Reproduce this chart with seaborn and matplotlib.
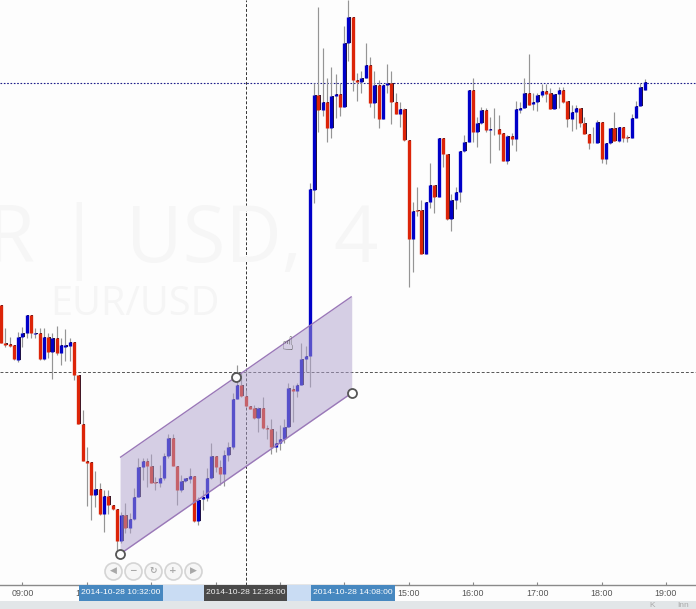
import pandas as pd
import seaborn as sns
import matplotlib.pyplot as plt
from matplotlib.patches import Rectangle

# Chart has no price axis, so levels are read as rows from the top of the chart
opens = [305, 343.3, 344.3, 345, 360, 336.7, 332.7, 315, 333.7, 333.3, 359, 336.7, 351.7, 338.3, 352.7, 346.7, 346,
         342.3, 375, 424.3, 461, 462.3, 495.3, 489.3, 514.3, 496, 505, 509, 540.7, 515, 528, 519.3, 496.7, 466.7,
         461, 465.7, 482, 483.3, 478.3, 456, 438.3, 465.7, 490, 481, 478.7, 476, 521, 499.3, 498.3, 478.3, 456,
         466.7, 474, 454.7, 446.7, 399.3, 384.7, 395.7, 406, 408.3, 418.3, 408.3, 428, 428.7, 446.7, 443, 439,
         427.3, 388.7, 391.3, 385.3, 359.3, 355.7, 190, 95, 110, 102.3, 128.3, 96, 94.3, 106.7, 43.3, 16.7, 80,
         82.3, 78.3, 64.7, 102.7, 85.3, 119, 85.3, 83, 101.7, 114, 109, 140.3, 238.7, 210.3, 210.3, 253.7, 201.7,
         185.3, 196.7, 137.7, 153.7, 218.7, 200.3, 192, 150.7, 141.7, 90.3, 132, 123.3, 110.3, 129.7, 129.3, 128.7,
         133.3, 161.3, 135.7, 138.7, 109.7, 108.3, 92.7, 104.3, 102.3, 95, 90.7, 93.3, 108.7, 94.3, 90, 101.3,
         119, 111.7, 108.3, 122.7, 134.3, 143.3, 142.7, 121.7, 158.7, 143.3, 128, 140.7, 127.3, 137.3, 138, 118.3,
         105.7, 90]
highs = [305, 328.3, 336.7, 345, 331.7, 326.7, 315, 315, 328.3, 328.3, 328.3, 333.3, 333.3, 326, 338.3, 329.3, 338.3,
         342.3, 375, 410, 446.7, 462.3, 470.7, 483.3, 490, 490, 505, 509, 511.7, 503.3, 513.3, 488.3, 458.3, 458.3,
         458.3, 454, 476.7, 465, 453.3, 434, 434, 465.7, 475, 478.3, 468.3, 476, 496.7, 490, 468.3, 442.7, 456,
         460, 450, 441.7, 393.3, 365, 373.3, 390, 406, 405, 406.7, 396.7, 425, 419.3, 430.7, 425, 419.3,
         383.3, 385, 383.3, 342.7, 346, 183, 82.7, 7.3, 48.3, 78.3, 67.3, 74, 83.3, 26, 0, 16.7, 73.3,
         70.7, 43.3, 57.3, 70.7, 80, 84, 64, 70.7, 92.7, 101.7, 108.3, 140.3, 201.7, 187.3, 200, 201.7, 163.3,
         185.3, 137.7, 137.7, 153.7, 194, 187.3, 150.7, 135, 90.3, 78.3, 116.7, 106.7, 108.3, 116.7, 108.3, 115,
         133.3, 135, 132.7, 101, 101.7, 78.3, 54.3, 92.7, 92.7, 84.3, 84.3, 88.3, 94, 86.7, 87.3, 100.7,
         105, 105, 108.3, 116.7, 134.3, 127.3, 120, 121.7, 143.3, 127.7, 112.3, 127.3, 127.3, 135, 114, 101,
         82.7, 79.3]
lows = [343.3, 346.7, 346.7, 360, 361.7, 346.7, 338.3, 338.3, 338.3, 360, 360, 358.3, 379.3, 355, 365, 360.7, 360.7,
        380, 424.3, 461, 506, 520, 506.7, 515, 531.7, 514, 510, 550, 543.3, 533.3, 533.3, 520, 496.7, 480,
        486.7, 482.7, 490, 487.3, 480, 458.3, 465.7, 505, 491.7, 481.7, 483.3, 521.7, 525, 510, 500.7, 479.3, 471.7,
        485, 485.7, 460.7, 449.3, 399.3, 396.7, 406.7, 409.3, 419.3, 431.7, 429.3, 439.3, 454, 451.7, 450, 442.7,
        427.3, 421.7, 396.7, 385.3, 371.7, 387, 203.3, 131.7, 116, 141.7, 137.7, 117.7, 115.7, 106.7, 61, 90.7, 100.7,
        93.3, 78.3, 107.3, 118.3, 127.7, 119, 93.3, 124.3, 114, 126.7, 141, 287.3, 271.7, 216, 253.7, 253.7, 208.3,
        212.7, 196.7, 166.7, 220, 231, 209.3, 201.7, 151.7, 141.7, 141.7, 146.7, 124, 131.7, 162.7, 135, 150,
        161.3, 164, 145, 150.7, 113.3, 108.3, 105, 110, 110.7, 96.7, 101.7, 108.7, 109.3, 108.3, 102.7, 126.7,
        130.7, 129, 126.7, 134.3, 149, 143.3, 143.3, 162.7, 164, 144, 140.7, 141.7, 141.7, 141.7, 138, 118.3,
        105.7, 90]
closes = [343.3, 345, 345.7, 359.3, 336.7, 332.7, 315, 333.3, 332.7, 359, 336.7, 351.7, 338.3, 352.7, 345, 345,
          342.3, 375, 424.3, 461, 462.7, 495.3, 489.3, 514.3, 496, 505, 509, 540.7, 515, 528, 519.3, 496.7, 466.7,
          461, 465.7, 482.7, 483, 478.3, 456, 438.3, 465.7, 490, 481, 478.3, 476, 521, 500, 497.3, 478.3, 456,
          466.7, 474, 454.7, 446.7, 399.3, 384.7, 395.7, 406, 408.7, 418.3, 408.3, 428.3, 428.7, 446.7, 443, 439,
          427.3, 388.3, 391.3, 385.3, 359.3, 355.7, 189.3, 95, 110, 102.3, 128.3, 96, 94.3, 106.7, 43.3, 16.7, 80,
          82.3, 78.3, 64.7, 102.7, 85.3, 119, 85.3, 83, 101.7, 114, 109, 140.3, 238.7, 211, 211, 253.7, 201.7, 185.3,
          196.7, 137.7, 153.7, 218.7, 200.3, 192, 150.7, 141.7, 90.3, 132, 123.3, 110.3, 129.7, 129, 128.7, 133.7,
          161.3, 135.7, 138.7, 109.3, 108.3, 92.7, 104.7, 102, 95, 90.7, 93.7, 108.7, 94, 90, 101.7, 119,
          111.7, 108.3, 122.7, 134.3, 143.3, 142.7, 121.7, 158.7, 143.3, 127.7, 140.7, 127.3, 138, 138, 118.3,
          105.7, 86.7, 82.3]

first_minute = 520  # 08:40
candle_minutes = 4

tick_minutes = [540, 600, 660, 720, 780, 840, 900, 960, 1020, 1080, 1140]
tick_labels = ["09:00", "10:00", "11:00", "12:00", "13:00", "14:00", "15:00", "16:00", "17:00", "18:00", "19:00"]

channel_minutes = [631, 847]
channel_lower = [554, 393]
channel_upper = [457.5, 296.5]
anchor_minutes = [631, 739, 847]
anchor_levels = [554, 377, 393]

cross_minute = 748
cross_level = 372
last_price_level = 83

span_minutes = [632, 848]
span_labels = ["2014-10-28 10:32:00", "2014-10-28 14:08:00"]
cross_label = "2014-10-28 12:28:00"

button_minutes = [624.4, 643.1, 661.7, 680.4, 699]
button_level = 570.5
button_glyphs = ["◀", "−", "↻", "+", "▶"]

sns.set_theme(style="white")
plt.rcParams["font.family"] = ["Liberation Sans", "DejaVu Sans"]
plt.rcParams["lines.solid_capstyle"] = "butt"

# Build the candle table
df = pd.DataFrame({"open": opens, "high": highs, "low": lows, "close": closes})
df["minute"] = first_minute + df.index * candle_minutes
df["direction"] = ["up" if c < o else "down" for o, c in zip(df["open"], df["close"])]
df["candle"] = df.index

wicks = pd.concat([
    df[["candle", "minute", "high"]].rename(columns={"high": "level"}),
    df[["candle", "minute", "low"]].rename(columns={"low": "level"}),
])
bodies = pd.concat([
    df[["candle", "minute", "direction", "open"]].rename(columns={"open": "level"}),
    df[["candle", "minute", "direction", "close"]].rename(columns={"close": "level"}),
])
shadow = bodies.assign(minute=bodies["minute"] + 1.3)

fig = plt.figure(figsize=(6.96, 6.09), dpi=100, facecolor="#fdfdfd")
ax = fig.add_axes([0, 24 / 609, 1, 585 / 609])
ax.patch.set_alpha(0)

# Watermarks sit behind everything, the first letters run off the left edge
mark = dict(fontsize=56, family="Open Sans", color="#f6f6f6", va="baseline")
fig.text(35 / 696, 1 - 262 / 609, "EUR", ha="right", **mark)
fig.text(79 / 696, 1 - 262 / 609, "|", ha="center", **mark)
fig.text(126 / 696, 1 - 262 / 609, "USD,", ha="left", **mark)
fig.text(378 / 696, 1 - 262 / 609, "4", ha="right", **mark)
fig.text(50 / 696, 1 - 315 / 609, "EUR/USD", fontsize=28.5, family="Open Sans", color="#f5f5f5",
         ha="left", va="baseline")

ax.axhline(last_price_level, color="#1c1c8a", lw=0.8, ls=(0, (1.5, 1.5)), zorder=1)
ax.axhline(cross_level, color="#555555", lw=0.7, ls=(0, (3, 2)), zorder=1)
ax.axvline(cross_minute, color="#333333", lw=0.7, ls=(0, (3, 2)), zorder=1)

sns.lineplot(data=wicks, x="minute", y="level", units="candle", estimator=None, sort=False,
             color="#959595", lw=0.85, ax=ax, zorder=2)
sns.lineplot(data=shadow, x="minute", y="level", units="candle", estimator=None, sort=False,
             color="#201028", lw=1.4, ax=ax, zorder=3)
sns.lineplot(data=bodies, x="minute", y="level", units="candle", hue="direction", estimator=None, sort=False,
             palette={"up": "#0000c8", "down": "#dc2408"}, hue_order=["up", "down"], lw=2.4, ax=ax,
             legend=False, zorder=4)

# Channel drawing tool on top of the candles
ax.fill_between(channel_minutes, channel_lower, channel_upper, color="#afa1cd", alpha=0.5, lw=0, zorder=5)
sns.lineplot(x=channel_minutes, y=channel_lower, color="#9a78b8", lw=1.0, ax=ax, zorder=6)
sns.lineplot(x=channel_minutes, y=channel_upper, color="#9a78b8", lw=1.0, ax=ax, zorder=6)
sns.scatterplot(x=anchor_minutes, y=anchor_levels, s=42, color="#fdfdfd", edgecolor="#555555", linewidth=1.3,
                ax=ax, zorder=7, clip_on=False)

# Zoom buttons
sns.scatterplot(x=button_minutes, y=[button_level] * len(button_minutes), s=150, color="#f6f6f6",
                edgecolor="#d4d4d4", linewidth=1.2, ax=ax, zorder=7)
for m, glyph in zip(button_minutes, button_glyphs):
    ax.text(m, button_level, glyph, fontsize=6.5, color="#a8a8a8", ha="center", va="center", zorder=8,
            family="DejaVu Sans", fontweight="bold")

# Mouse pointer
ax.text(787, 344, "☝", fontsize=14, family="DejaVu Sans", color="#555555", ha="center", va="center", zorder=8)

ax.set_xlim(519.07, 1168.0)
ax.set_ylim(585, 0)
ax.set_xlabel("")
ax.set_ylabel("")
ax.set_yticks([])
ax.set_xticks(tick_minutes, tick_labels)
ax.tick_params(axis="x", direction="in", length=2, width=0.8, color="#888888", labelsize=6.4, labelcolor="#555555",
               pad=3, bottom=True)
for side in ["top", "left", "right"]:
    ax.spines[side].set_visible(False)
ax.spines["bottom"].set_color("#8a8a8a")
ax.spines["bottom"].set_linewidth(1.0)

# Time selection labels cover the axis ticks
trans = ax.get_xaxis_transform()
strip = -16 / 585
half_label = 39
ax.add_patch(Rectangle((span_minutes[0], strip), span_minutes[1] - span_minutes[0], -strip, transform=trans,
                       color="#c9dcf3", lw=0, clip_on=False, zorder=9))
for m, label in zip(span_minutes, span_labels):
    ax.add_patch(Rectangle((m - half_label, strip), 2 * half_label, -strip, transform=trans,
                           color="#4788c0", lw=0, clip_on=False, zorder=10))
    ax.text(m, strip / 2, label, transform=trans, color="white", fontsize=6.1,
            ha="center", va="center", zorder=11)
ax.add_patch(Rectangle((cross_minute - half_label, strip), 2 * half_label, -strip, transform=trans,
                       color="#4a4a4a", lw=0, clip_on=False, zorder=10))
ax.text(cross_minute, strip / 2, cross_label, transform=trans, color="#f0f0f0", fontsize=6.1,
        ha="center", va="center", zorder=11)

# Grey status strip along the bottom
fig.add_artist(Rectangle((0, 0), 1, 8 / 609, transform=fig.transFigure, color="#e2e6e8", lw=0))
fig.text(652 / 696, 0.0, "K", fontsize=6, color="#aaaaaa", ha="center", va="bottom")
fig.text(683 / 696, 0.0, "Inn", fontsize=6, color="#aaaaaa", ha="center", va="bottom")

fig.savefig("out.png", dpi=100, facecolor=fig.get_facecolor())
